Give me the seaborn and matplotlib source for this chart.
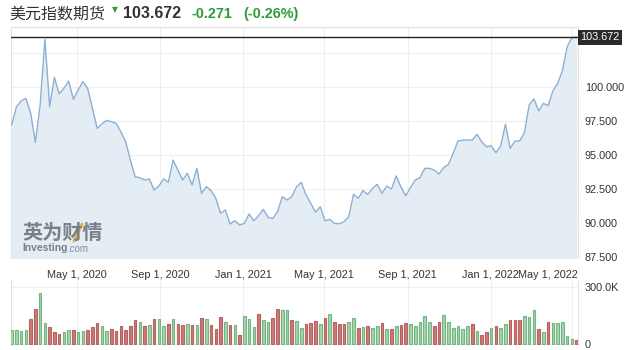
import matplotlib
matplotlib.use('Agg')
import matplotlib.pyplot as plt
import matplotlib.dates as mdates
import matplotlib.colors as mcolors
from matplotlib.lines import Line2D
import seaborn as sns
import pandas as pd
import numpy as np

# ---------------- data ----------------
title_cn = "美元指数期货"
last_price = 103.672
change_txt = "-0.271"
change_pct_txt = "(-0.26%)"
start_week = "2020-01-26"   # weekly bars, labelled by week start

close = [
    97.2, 98.55, 98.97, 99.17, 98.07, 95.93, 98.7, 103.5, 98.55, 100.7,
    99.5, 99.9, 100.44, 99.1, 99.78, 100.4, 99.9, 98.43, 96.96, 97.28,
    97.55, 97.45, 97.33, 96.71, 95.98, 94.63, 93.4, 93.33, 93.16, 93.24,
    92.43, 92.72, 93.24, 92.99, 94.63, 93.9, 93.16, 93.65, 92.8, 94.02,
    92.18, 92.67, 92.38, 91.82, 90.71, 90.96, 89.93, 90.17, 89.85, 89.97,
    90.66, 90.17, 90.54, 91.0, 90.42, 90.34, 90.83, 91.94, 91.69, 91.94,
    92.67, 92.99, 92.06, 91.45, 90.79, 91.2, 90.17, 90.27, 89.97, 89.95,
    90.1, 90.46, 92.11, 91.82, 92.38, 92.11, 92.55, 92.84, 92.18, 92.72,
    92.5, 93.46, 92.65, 92.01, 92.6, 93.16, 93.33, 94.02, 94.02, 93.9,
    93.6, 94.07, 94.31, 95.12, 96.03, 96.1, 96.1, 96.1, 96.52, 95.98,
    95.61, 95.68, 95.17, 95.66, 97.26, 95.49, 96.03, 96.03, 96.64, 98.68,
    99.12, 98.24, 98.8, 98.63, 99.71, 100.27, 101.2, 102.96, 103.62, 103.672,
]

volume_k = [
    75.9, 75.9, 70.7, 75.9, 132.8, 184.5, 265.5, 110.3, 91.4, 63.8,
    55.2, 65.5, 75.9, 75.9, 65.5, 70.7, 75.9, 91.4, 112.1, 96.6,
    70.7, 81.0, 70.7, 96.6, 75.9, 96.6, 127.6, 117.2, 96.6, 101.7,
    132.8, 132.8, 96.6, 106.9, 132.8, 106.9, 101.7, 106.9, 101.7, 101.7,
    137.9, 132.8, 101.7, 81.0, 143.1, 117.2, 101.7, 101.7, 50.0, 148.3,
    132.8, 91.4, 158.6, 127.6, 117.2, 137.9, 184.5, 179.3, 179.3, 127.6,
    122.4, 86.2, 106.9, 112.1, 122.4, 106.9, 137.9, 158.6, 117.2, 106.9,
    106.9, 117.2, 137.9, 86.2, 91.4, 96.6, 86.2, 96.6, 112.1, 81.0,
    81.0, 96.6, 101.7, 112.1, 106.9, 96.6, 117.2, 148.3, 117.2, 96.6,
    117.2, 153.4, 117.2, 86.2, 96.6, 81.0, 96.6, 106.9, 70.7, 50.0,
    65.5, 86.2, 96.6, 86.2, 106.9, 127.6, 127.6, 127.6, 148.3, 143.1,
    179.3, 81.0, 65.5, 117.2, 112.1, 112.1, 117.2, 44.8, 29.3, 24.1,
]

direction = list(
    "ggggrrggrr"
    "rggrggrrrg"
    "grrrrrrgrg"
    "rggrgrrgrg"
    "rgrrrgrgrg"
    "ggrggrrggr"
    "ggrrrgrgrr"
    "rggrgrggrg"
    "rgrrgggggr"
    "rggggggrgr"
    "rgrggrrrgg"
    "grgrgggggr"
)
direction = ["up" if d == "g" else "down" for d in direction]

x_tick_dates = ["2020-05-01", "2020-09-01", "2021-01-01", "2021-05-01",
                "2021-09-01", "2022-01-01", "2022-05-01"]
x_tick_labels = ["May 1, 2020", "Sep 1, 2020", "Jan 1, 2021", "May 1, 2021",
                 "Sep 1, 2021", "Jan 1, 2022", "May 1, 2022"]
y_ticks = [87.5, 90.0, 92.5, 95.0, 97.5, 100.0, 102.5]
vol_ticks = [0, 300]
vol_tick_labels = ["0", "300.0K"]

# ---------------- style ----------------
sns.set_theme(style="white")
plt.rcParams['font.family'] = ['Liberation Sans', 'Noto Sans CJK SC', 'DejaVu Sans']

W, H = 630, 350
fig = plt.figure(figsize=(W / 100, H / 100), dpi=100)
fig.patch.set_facecolor("white")

def fx(px):
    return px / W

def fy(py):
    return 1 - py / H

L, R = 11, 578
ax = fig.add_axes([fx(L), fy(258), fx(R) - fx(L), fy(27) - fy(258)])
axv = fig.add_axes([fx(L), fy(345), fx(R) - fx(L), fy(280) - fy(345)])

dates = pd.date_range(start_week, periods=len(close), freq="7D")
df = pd.DataFrame({"date": dates, "close": close, "volume": volume_k, "dir": direction})
df["dnum"] = mdates.date2num(df["date"])

line_c = "#8cb0d4"
fill_c = "#e4edf4"
grid_c = "#efefef"
txt_c = "#333333"

# price line
sns.lineplot(data=df, x="dnum", y="close", ax=ax, color=line_c, linewidth=1.0, zorder=3)
ax.fill_between(df["dnum"], df["close"], 80, color=fill_c, zorder=1, linewidth=0)
ax.axhline(last_price, color="#222222", linewidth=1.0, zorder=4)

xmin = mdates.date2num(pd.Timestamp("2020-01-25"))
xmax = mdates.date2num(pd.Timestamp("2022-05-10"))
tick_nums = [mdates.date2num(pd.Timestamp(d)) for d in x_tick_dates]

ax.set_xlim(xmin, xmax)
ax.set_ylim(87.43, 104.41)
ax.set_xticks(tick_nums)
ax.set_xticklabels(x_tick_labels[:-1] + [""])
ax.set_yticks(y_ticks)
ax.set_yticklabels([f"{v:.3f}" if v <= 100 else "" for v in y_ticks])
ax.yaxis.tick_right()
ax.tick_params(axis="y", length=0, pad=5, labelsize=7.8, labelcolor=txt_c)
ax.tick_params(axis="x", length=0, pad=8.5, labelsize=7.8, labelcolor=txt_c)
ax.grid(True, color=grid_c, linewidth=0.8, zorder=0)
ax.set_axisbelow(True)
ax.set_xlabel("")
ax.set_ylabel("")
for s in ax.spines.values():
    s.set_color("#e2e2e2")
    s.set_linewidth(0.8)
ax.spines["bottom"].set_visible(False)

ax.text(1.0, -0.074, x_tick_labels[-1], transform=ax.transAxes, ha="right", va="center",
        fontsize=7.8, color=txt_c)

# price box
fig.text(fx(580), fy(37.3), f"{last_price:.3f}", ha="left", va="center", fontsize=7.8,
         color="white", bbox=dict(boxstyle="square,pad=0.22", fc="#2b2b2b", ec="none"))

# volume bars
green_f, green_e = "#a4d4ab", "#74b683"
red_f, red_e = "#c97b78", "#b9625f"
sns.barplot(data=df, x="dnum", y="volume", hue="dir", palette={"up": green_f, "down": red_f},
            native_scale=True, dodge=False, width=0.55, errorbar=None, legend=False,
            saturation=1, ax=axv, linewidth=0.8, zorder=3)
for p in axv.patches:
    fc = mcolors.to_hex(p.get_facecolor())
    p.set_edgecolor(green_e if fc == green_f else red_e)

axv.set_xlim(xmin, xmax)
axv.set_ylim(-2.6, 335)
axv.set_xticks(tick_nums)
axv.set_xticklabels([])
axv.set_yticks(vol_ticks)
axv.set_yticklabels(vol_tick_labels)
axv.yaxis.tick_right()
axv.tick_params(axis="y", length=0, pad=5, labelsize=7.8, labelcolor=txt_c)
axv.tick_params(axis="x", length=0)
axv.grid(True, color=grid_c, linewidth=0.8, zorder=0)
axv.set_axisbelow(True)
axv.set_xlabel("")
axv.set_ylabel("")
for k, s in axv.spines.items():
    s.set_color("#e2e2e2")
    s.set_linewidth(0.8)
axv.spines["top"].set_visible(False)
axv.spines["bottom"].set_visible(False)

# header
fig.text(fx(9), fy(14), title_cn, ha="left", va="center", fontsize=11.5, color=txt_c,
         family=["Noto Sans CJK SC", "DejaVu Sans"])
fig.text(fx(114.5), fy(9.5), "▼", ha="center", va="center", fontsize=5.5, color="#2f9b3b",
         family=["DejaVu Sans"])
fig.text(fx(123), fy(14), f"{last_price:.3f}", ha="left", va="center", fontsize=11.5,
         fontweight="bold", color=txt_c)
fig.text(fx(191.5), fy(14), change_txt, ha="left", va="center", fontsize=10.4,
         fontweight="bold", color="#2f9b3b")
fig.text(fx(243), fy(14), change_pct_txt, ha="left", va="center", fontsize=10.4,
         fontweight="bold", color="#2f9b3b")

# watermark
fig.text(fx(22), fy(232), "英为财情", ha="left", va="center", fontsize=14.5, fontweight="bold",
         color="#6c747d", alpha=0.9, family=["Noto Sans CJK SC", "DejaVu Sans"])
fig.add_artist(Line2D([fx(74), fx(82)], [fy(241), fy(224)], color="#f2a93b", linewidth=2.2,
                      alpha=0.9, transform=fig.transFigure))
fig.text(fx(22), fy(248), "Investing", ha="left", va="center", fontsize=7.4, fontweight="bold",
         color="#6c747d", alpha=0.9)
fig.text(fx(67.5), fy(248.5), ".com", ha="left", va="center", fontsize=7.0,
         color="#7d858d", alpha=0.9)

fig.savefig("out.png", dpi=100, facecolor="white")
